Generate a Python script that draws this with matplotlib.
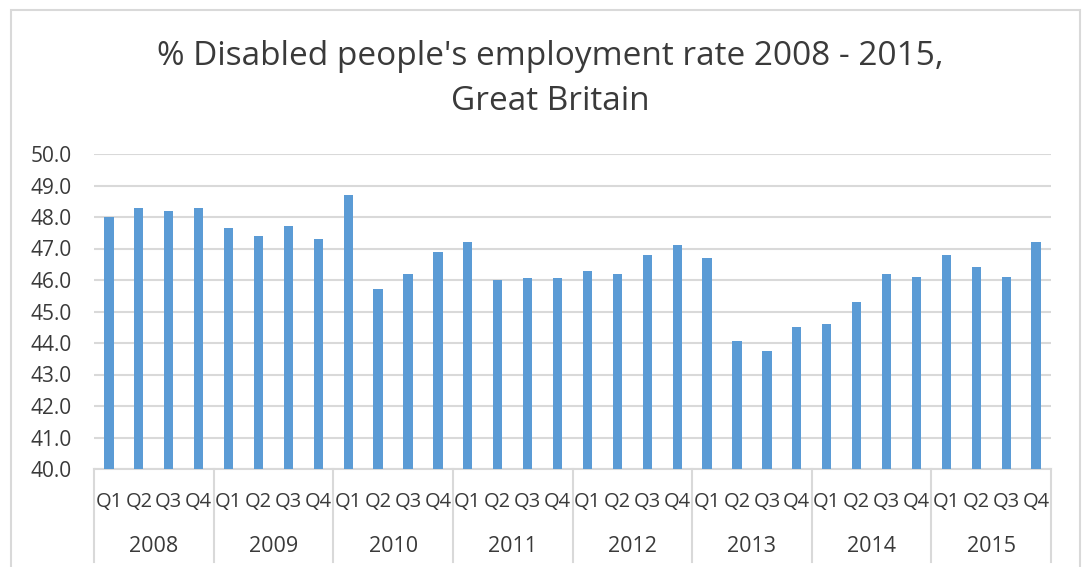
import numpy as np
import matplotlib.pyplot as plt
from matplotlib.patches import Rectangle
import matplotlib.transforms as mtransforms

years = ['2008', '2009', '2010', '2011', '2012', '2013', '2014', '2015']
quarters = ['Q1', 'Q2', 'Q3', 'Q4']
rate = [48.0, 48.3, 48.2, 48.3,
        47.65, 47.4, 47.7, 47.3,
        48.7, 45.7, 46.2, 46.9,
        47.2, 46.0, 46.05, 46.05,
        46.3, 46.2, 46.8, 47.1,
        46.7, 44.05, 43.75, 44.5,
        44.6, 45.3, 46.2, 46.1,
        46.8, 46.4, 46.1, 47.2]

plt.rcParams['font.family'] = ['Open Sans', 'DejaVu Sans']
txt = '#3A3A3A'
grid = '#D9D9D9'

W, H = 1083, 567
fig = plt.figure(figsize=(W / 100, H / 100), dpi=100)
# chart frame
fig.patches.append(Rectangle((11 / W, -0.1), (1080 - 11) / W, 1.1 - 10 / H,
                             transform=fig.transFigure, fill=False,
                             edgecolor=grid, lw=1.5))

x0, x1, ytop, ybot = 94, 1051, 154, 469
ax = fig.add_axes([x0 / W, 1 - ybot / H, (x1 - x0) / W, (ybot - ytop) / H])

x = np.arange(len(rate))
ax.bar(x, np.array(rate) - 40, bottom=40, width=0.31, color='#5B9BD5', zorder=3)
ax.set_xlim(-0.5, len(rate) - 0.5)
ax.set_ylim(40, 50)
ax.set_yticks(np.arange(40, 51, 1))
ax.set_yticklabels(['%.1f' % v for v in np.arange(40, 51, 1)], fontsize=15, color=txt)
ax.tick_params(axis='y', length=0, pad=16)
ax.grid(axis='y', color=grid, lw=1.5, zorder=0)
ax.set_xticks([])
for s in ['top', 'right', 'left']:
    ax.spines[s].set_visible(False)
ax.spines['bottom'].set_color(grid)
ax.spines['bottom'].set_linewidth(1.5)

trans = mtransforms.blended_transform_factory(ax.transData, ax.transAxes)
q_y = -(502 - ybot) / (ybot - ytop)
yr_y = -(547 - ybot) / (ybot - ytop)
sep_end = -(562 - ybot) / (ybot - ytop)
for i, v in enumerate(rate):
    ax.text(i, q_y, quarters[i % 4], transform=trans, ha='center', va='center',
            fontsize=14.5, color=txt)
for j, yr in enumerate(years):
    ax.text(j * 4 + 1.5, yr_y, yr, transform=trans, ha='center', va='center',
            fontsize=15.5, color=txt)
for j in range(len(years) + 1):
    ax.plot([j * 4 - 0.5] * 2, [0, sep_end], transform=trans, color=grid,
            lw=1.5, clip_on=False)

fig.text(550 / W, 1 - 79 / H, "% Disabled people's employment rate 2008 - 2015,\nGreat Britain",
         ha='center', va='center', fontsize=24, color=txt, linespacing=1.5)

fig.savefig('out.png', dpi=100)
